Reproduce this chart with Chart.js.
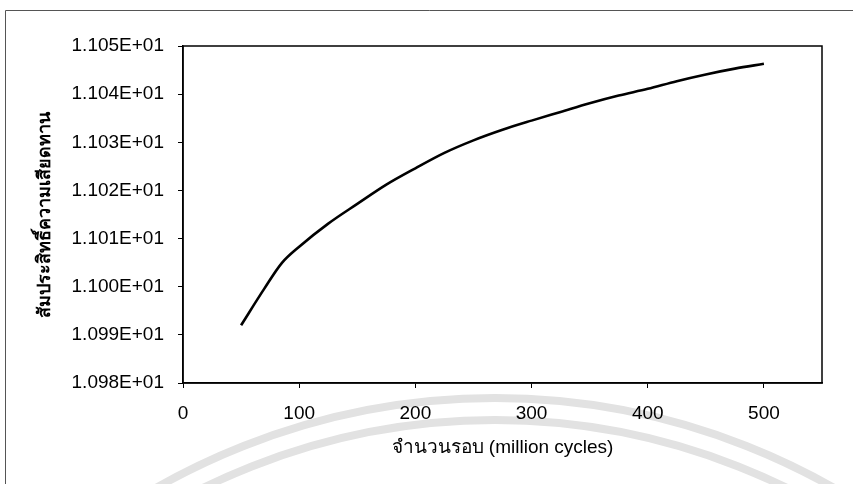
<!DOCTYPE html>
<html>
<head>
<meta charset="utf-8">
<script src="https://cdn.jsdelivr.net/npm/chart.js@4/dist/chart.umd.min.js"></script>
<style>
    html, body { margin: 0; padding: 0; background: #fff; }
    #wrap { width: 853px; height: 484px; }
</style>
</head>
<body>
<div id="wrap"><canvas id="frictionChart"></canvas></div>
<script>
// cycles (million) and friction coefficient
const cycles = [50, 70, 85, 100, 125, 150, 175, 200, 225, 250, 275, 300, 325, 350, 375, 400, 425, 450, 475, 500];
const friction = [10.9920, 10.9996, 11.0049, 11.0083, 11.0131, 11.0172, 11.0212, 11.0246, 11.0278, 11.0304,
    11.0326, 11.0345, 11.0363, 11.0381, 11.0397, 11.0411, 11.0427, 11.0441, 11.0453, 11.0463];

const xTitle = 'จำนวนรอบ (million cycles)';
const yTitle = 'สัมประสิทธิ์ความเสียดทาน';

const FONT = "'Liberation Sans', Arial, sans-serif";

function excelSci(v) {
    const parts = Number(v).toExponential(3).split('e');
    const exp = parseInt(parts[1], 10);
    const sign = exp < 0 ? '-' : '+';
    return parts[0] + 'E' + sign + String(Math.abs(exp)).padStart(2, '0');
}

// scanned page frame, faint watermark and the plot box
const pageDecor = {
    id: 'pageDecor',
    beforeDraw(chart) {
        const ctx = chart.ctx;
        ctx.save();
        ctx.strokeStyle = '#e2e2e2';
        ctx.lineWidth = 8;
        ctx.beginPath();
        ctx.arc(495, 1081, 683, 0, Math.PI * 2);
        ctx.stroke();
        ctx.beginPath();
        ctx.arc(495, 1081, 661, 0, Math.PI * 2);
        ctx.stroke();
        ctx.strokeStyle = '#555';
        ctx.lineWidth = 1;
        ctx.beginPath();
        ctx.moveTo(5.5, 490);
        ctx.lineTo(5.5, 10.5);
        ctx.lineTo(853, 10.5);
        ctx.stroke();
        ctx.restore();
    },
    afterDatasetsDraw(chart) {
        const a = chart.chartArea;
        const ctx = chart.ctx;
        ctx.save();
        ctx.strokeStyle = '#000';
        ctx.lineWidth = 1.5;
        ctx.strokeRect(a.left, a.top, a.right - a.left, a.bottom - a.top);
        ctx.restore();
    }
};

const ctx = document.getElementById('frictionChart').getContext('2d');
new Chart(ctx, {
    type: 'line',
    data: {
        datasets: [{
            data: cycles.map((c, i) => ({ x: c, y: friction[i] })),
            borderColor: '#000',
            borderWidth: 2.6,
            pointRadius: 0,
            fill: false,
            cubicInterpolationMode: 'monotone'
        }]
    },
    options: {
        responsive: true,
        maintainAspectRatio: false,
        animation: false,
        layout: { padding: { left: 0, top: 46, right: 31, bottom: 0 } },
        plugins: {
            legend: { display: false },
            tooltip: { enabled: false }
        },
        scales: {
            x: {
                type: 'linear',
                min: 0,
                max: 550,
                afterFit(scale) { scale.height = 101; },
                afterBuildTicks(scale) { scale.ticks = scale.ticks.filter(t => t.value <= 500); },
                ticks: {
                    stepSize: 100,
                    padding: 14,
                    color: '#000',
                    font: { family: FONT, size: 19 }
                },
                grid: { drawOnChartArea: false, drawTicks: true, tickLength: 5, color: '#000' },
                border: { display: true, color: '#000', width: 1.5 },
                title: {
                    display: true,
                    text: xTitle,
                    color: '#000',
                    font: { family: FONT, size: 19 },
                    padding: { top: 0, bottom: 25 }
                }
            },
            y: {
                min: 10.98,
                max: 11.05,
                afterFit(scale) { scale.width = 183; },
                ticks: {
                    stepSize: 0.01,
                    padding: 14,
                    color: '#000',
                    font: { family: FONT, size: 19 },
                    callback: v => excelSci(v)
                },
                grid: { drawOnChartArea: false, drawTicks: true, tickLength: 5, color: '#000' },
                border: { display: true, color: '#000', width: 1.5 },
                title: {
                    display: true,
                    text: yTitle,
                    color: '#000',
                    font: { family: FONT, size: 18, weight: 'bold' },
                    padding: { top: 34, bottom: 0 }
                }
            }
        }
    },
    plugins: [pageDecor]
});
</script>
</body>
</html>
